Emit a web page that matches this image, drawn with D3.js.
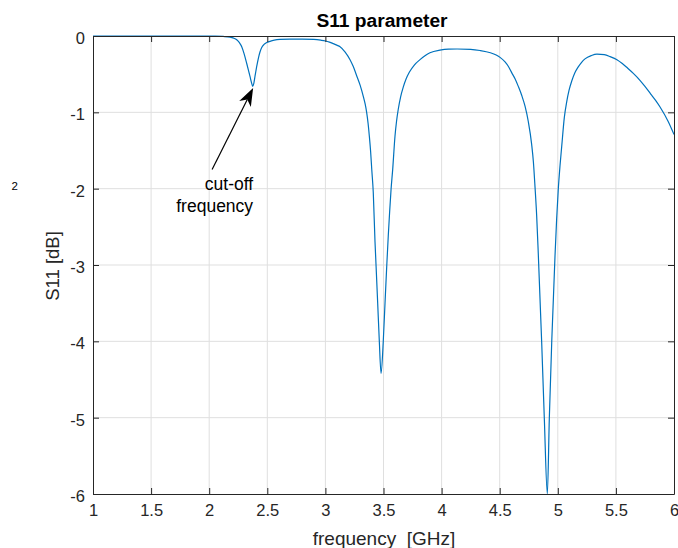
<!DOCTYPE html>
<html>
<head>
<meta charset="utf-8">
<script src="https://cdn.jsdelivr.net/npm/d3@7"></script>
<style>
  html, body { margin: 0; padding: 0; background: #fff; }
  svg { display: block; }
  text { font-family: "Liberation Sans", Arial, Helvetica, sans-serif; }
</style>
</head>
<body>
<svg id="chart" width="678" height="548"></svg>
<script>
// ---------- data ----------
const freq = [1.0, 1.5, 1.9, 2.05, 2.12, 2.18, 2.21, 2.237, 2.26, 2.28, 2.30, 2.323, 2.338, 2.351, 2.364, 2.374, 2.384, 2.394, 2.404, 2.414, 2.425, 2.437, 2.452, 2.472, 2.495, 2.523, 2.56, 2.609, 2.695, 2.8, 2.9, 2.96, 3.0, 3.035, 3.068, 3.098, 3.126, 3.17, 3.212, 3.24, 3.269, 3.30, 3.326, 3.342, 3.355, 3.367, 3.378, 3.389, 3.399, 3.412, 3.427, 3.436, 3.45, 3.464, 3.479, 3.498, 3.513, 3.528, 3.541, 3.553, 3.565, 3.579, 3.599, 3.612, 3.627, 3.647, 3.670, 3.695, 3.722, 3.765, 3.814, 3.86, 3.90, 3.986, 4.06, 4.133, 4.25, 4.331, 4.42, 4.47, 4.503, 4.546, 4.575, 4.603, 4.632, 4.660, 4.690, 4.718, 4.746, 4.775, 4.790, 4.804, 4.818, 4.832, 4.861, 4.884, 4.910, 4.927, 4.948, 4.976, 4.990, 5.004, 5.019, 5.034, 5.056, 5.077, 5.097, 5.120, 5.146, 5.176, 5.205, 5.234, 5.29, 5.337, 5.40, 5.45, 5.509, 5.555, 5.60, 5.65, 5.707, 5.75, 5.80, 5.84, 5.880, 5.95, 6.0];
const s11 = [0, 0, 0, -0.002, -0.006, -0.015, -0.028, -0.05, -0.088, -0.14, -0.23, -0.36, -0.45, -0.53, -0.61, -0.66, -0.62, -0.53, -0.44, -0.36, -0.28, -0.21, -0.15, -0.11, -0.085, -0.07, -0.055, -0.045, -0.04, -0.04, -0.045, -0.055, -0.065, -0.08, -0.10, -0.12, -0.14, -0.21, -0.31, -0.40, -0.52, -0.65, -0.79, -0.89, -1.0, -1.14, -1.31, -1.51, -1.75, -2.05, -2.7, -3.01, -3.5, -4.0, -4.42, -4.0, -3.5, -3.01, -2.62, -2.3, -2.01, -1.75, -1.31, -1.12, -0.96, -0.80, -0.67, -0.56, -0.475, -0.38, -0.31, -0.255, -0.22, -0.185, -0.172, -0.17, -0.175, -0.19, -0.22, -0.25, -0.28, -0.34, -0.40, -0.48, -0.56, -0.66, -0.78, -0.92, -1.12, -1.42, -1.65, -1.98, -2.35, -2.85, -4.0, -5.01, -6.0, -5.01, -4.0, -2.88, -2.4, -2.01, -1.70, -1.44, -1.07, -0.86, -0.71, -0.59, -0.485, -0.405, -0.345, -0.30, -0.255, -0.237, -0.245, -0.27, -0.31, -0.36, -0.42, -0.49, -0.58, -0.66, -0.76, -0.84, -0.93, -1.12, -1.29];
const xTicks = [1, 1.5, 2, 2.5, 3, 3.5, 4, 4.5, 5, 5.5, 6];
const yTicks = [0, -1, -2, -3, -4, -5, -6];
const titleText = "S11 parameter";
const xLabelText = "frequency  [GHz]";
const yLabelText = "S11 [dB]";
const annoLines = ["cut-off", "frequency"];
const annoTip = [2.378, -0.68];   // data coords of arrow tip
const annoTail = [2.025, -1.75];  // data coords of arrow tail

// ---------- layout ----------
const L = 93, R = 674, T = 36, B = 494;
const svg = d3.select("#chart");
const x = d3.scaleLinear().domain([1, 6]).range([L, R]);
const y = d3.scaleLinear().domain([-6, 0]).range([B, T]);
const axisCol = "#262626", gridCol = "#dfdfdf";
const fmt = d => String(d);

svg.append("rect").attr("width", 678).attr("height", 548).attr("fill", "#fff");

// grid
svg.append("g").selectAll("line").data(xTicks.slice(1, -1)).join("line")
  .attr("x1", d => x(d)).attr("x2", d => x(d)).attr("y1", T).attr("y2", B)
  .attr("stroke", gridCol).attr("stroke-width", 1);
svg.append("g").selectAll("line").data(yTicks.slice(1, -1)).join("line")
  .attr("y1", d => y(d)).attr("y2", d => y(d)).attr("x1", L).attr("x2", R)
  .attr("stroke", gridCol).attr("stroke-width", 1);

// curve
svg.append("defs").append("clipPath").attr("id", "clip")
  .append("rect").attr("x", L).attr("y", T - 1).attr("width", R - L).attr("height", B - T + 1);
const line = d3.line().x((d, i) => x(freq[i])).y(d => y(d)).curve(d3.curveMonotoneX);
svg.append("path").datum(s11).attr("d", line).attr("fill", "none")
  .attr("stroke", "#0072BD").attr("stroke-width", 1.2).attr("clip-path", "url(#clip)");

// axes (box, inward ticks)
const tickLen = 6;
const xAxisB = d3.axisBottom(x).tickValues(xTicks).tickSizeInner(-tickLen).tickSizeOuter(0).tickPadding(10).tickFormat(fmt);
const xAxisT = d3.axisTop(x).tickValues(xTicks).tickSizeInner(-tickLen).tickSizeOuter(0).tickFormat("");
const yAxisL = d3.axisLeft(y).tickValues(yTicks).tickSizeInner(-tickLen).tickSizeOuter(0).tickPadding(8).tickFormat(fmt);
const yAxisR = d3.axisRight(y).tickValues(yTicks).tickSizeInner(-tickLen).tickSizeOuter(0).tickFormat("");

function style(g) {
  g.select(".domain").attr("stroke", axisCol).attr("stroke-width", 1);
  g.selectAll(".tick line").attr("stroke", axisCol).attr("stroke-width", 1);
  g.selectAll(".tick text").attr("fill", axisCol).attr("font-size", 16.5)
    .attr("font-family", '"Liberation Sans", Arial, Helvetica, sans-serif');
}
svg.append("g").attr("transform", `translate(0,${B})`).call(xAxisB).call(style)
  .selectAll(".tick text").attr("dy", "0.71em");
svg.append("g").attr("transform", `translate(0,${T})`).call(xAxisT).call(style);
svg.append("g").attr("transform", `translate(${L},0)`).call(yAxisL).call(style)
  .selectAll(".tick text").attr("dy", "0.45em");
svg.append("g").attr("transform", `translate(${R},0)`).call(yAxisR).call(style);

// title and labels
svg.append("text").attr("x", 382).attr("y", 26.7).attr("text-anchor", "middle")
  .attr("font-size", 19.2).attr("font-weight", "bold").attr("fill", "#000").text(titleText);
svg.append("text").attr("x", 384).attr("y", 545).attr("text-anchor", "middle")
  .attr("font-size", 19).attr("fill", axisCol).attr("xml:space", "preserve")
  .style("white-space", "pre").text(xLabelText);
svg.append("text").attr("transform", "translate(59,266) rotate(-90)").attr("text-anchor", "middle")
  .attr("font-size", 18.5).attr("fill", axisCol).text(yLabelText);

// stray label
svg.append("text").attr("x", 11.5).attr("y", 189.5).attr("font-size", 11.5).attr("fill", "#000").text("2");

// annotation arrow
const tip = [x(annoTip[0]), y(annoTip[1])];
const tail = [x(annoTail[0]), y(annoTail[1])];
const dx = tip[0] - tail[0], dy = tip[1] - tail[1];
const len = Math.hypot(dx, dy);
const ux = dx / len, uy = dy / len, nx = -uy, ny = ux;
const hl = 18, hw = 6.5, notch = 13;
svg.append("line").attr("x1", tail[0]).attr("y1", tail[1])
  .attr("x2", tip[0] - ux * notch).attr("y2", tip[1] - uy * notch)
  .attr("stroke", "#000").attr("stroke-width", 1.2);
const head = [
  [tip[0], tip[1]],
  [tip[0] - ux * hl + nx * hw, tip[1] - uy * hl + ny * hw],
  [tip[0] - ux * notch, tip[1] - uy * notch],
  [tip[0] - ux * hl - nx * hw, tip[1] - uy * hl - ny * hw]
];
svg.append("path").attr("d", d3.line()(head) + "Z").attr("fill", "#000");

const annoX = x(annoTip[0]);
svg.append("g").selectAll("text").data(annoLines).join("text")
  .attr("x", annoX).attr("y", (d, i) => 190 + i * 22)
  .attr("text-anchor", "end").attr("font-size", 17.5).attr("fill", "#000").text(d => d);
</script>
</body>
</html>
